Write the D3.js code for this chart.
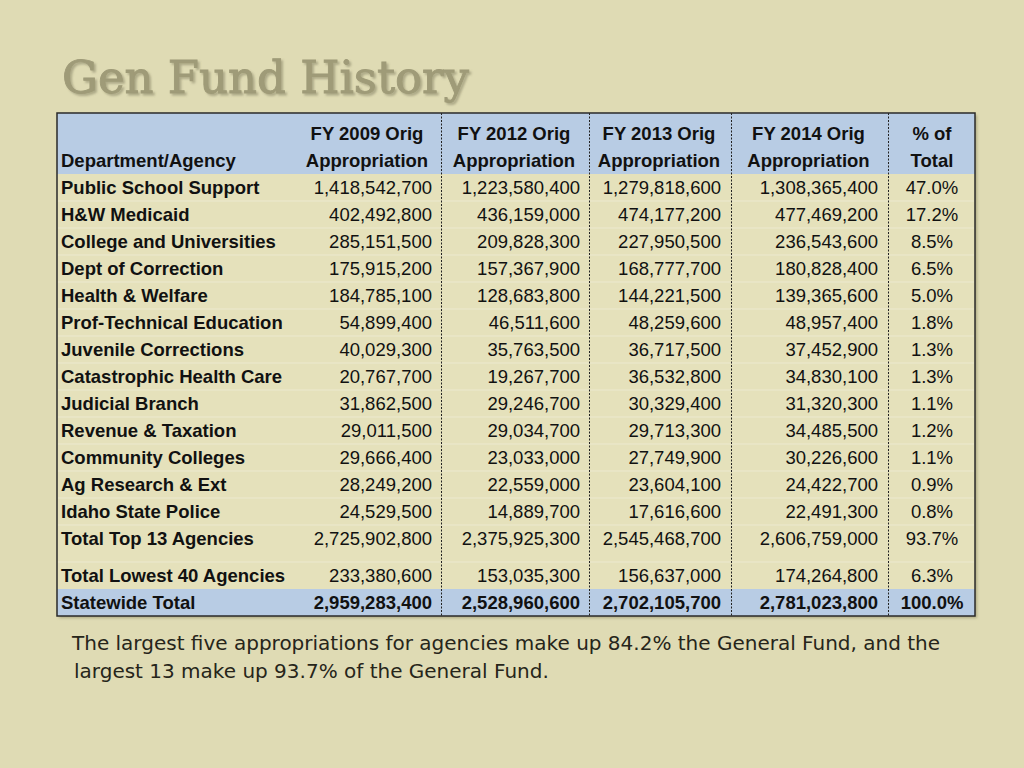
<!DOCTYPE html>
<html>
<head>
<meta charset="utf-8">
<script src="https://cdn.jsdelivr.net/npm/d3@7"></script>
<style>
html, body { margin: 0; padding: 0; background: #dfdbb4; }
svg { display: block; }
</style>
</head>
<body>
<script>
// ---------- DATA ----------
const titleText = "Gen Fund History";
const columnHeaders = [
  ["", "Department/Agency"],
  ["FY 2009 Orig", "Appropriation"],
  ["FY 2012 Orig", "Appropriation"],
  ["FY 2013 Orig", "Appropriation"],
  ["FY 2014 Orig", "Appropriation"],
  ["% of", "Total"]
];
const agencies = [
  "Public School Support", "H&W Medicaid", "College and Universities", "Dept of Correction",
  "Health & Welfare", "Prof-Technical Education", "Juvenile Corrections", "Catastrophic Health Care",
  "Judicial Branch", "Revenue & Taxation", "Community Colleges", "Ag Research & Ext",
  "Idaho State Police", "Total Top 13 Agencies", "Total Lowest 40 Agencies", "Statewide Total"
];
const fy2009 = [1418542700, 402492800, 285151500, 175915200, 184785100, 54899400, 40029300, 20767700,
  31862500, 29011500, 29666400, 28249200, 24529500, 2725902800, 233380600, 2959283400];
const fy2012 = [1223580400, 436159000, 209828300, 157367900, 128683800, 46511600, 35763500, 19267700,
  29246700, 29034700, 23033000, 22559000, 14889700, 2375925300, 153035300, 2528960600];
const fy2013 = [1279818600, 474177200, 227950500, 168777700, 144221500, 48259600, 36717500, 36532800,
  30329400, 29713300, 27749900, 23604100, 17616600, 2545468700, 156637000, 2702105700];
const fy2014 = [1308365400, 477469200, 236543600, 180828400, 139365600, 48957400, 37452900, 34830100,
  31320300, 34485500, 30226600, 24422700, 22491300, 2606759000, 174264800, 2781023800];
const pctTotal = [47.0, 17.2, 8.5, 6.5, 5.0, 1.8, 1.3, 1.3, 1.1, 1.2, 1.1, 0.9, 0.8, 93.7, 6.3, 100.0];
const footnoteLines = [
  "The largest five appropriations for agencies make up 84.2% the General Fund, and the",
  "largest 13 make up 93.7% of the General Fund."
];

// ---------- LAYOUT ----------
const W = 1024, H = 768;
const svg = d3.select("body").append("svg").attr("width", W).attr("height", H);
svg.append("rect").attr("width", W).attr("height", H).attr("fill", "#dfdbb4");

const defs = svg.append("defs");
const f = defs.append("filter").attr("id", "tshadow").attr("x", "-5%").attr("y", "-20%").attr("width", "110%").attr("height", "140%");
f.append("feDropShadow").attr("dx", 2).attr("dy", 2).attr("stdDeviation", 0.8).attr("flood-color", "#6e6a50").attr("flood-opacity", 0.45);
const f2 = defs.append("filter").attr("id", "bshadow").attr("x", "-5%").attr("y", "-5%").attr("width", "110%").attr("height", "110%");
f2.append("feDropShadow").attr("dx", 2).attr("dy", 2).attr("stdDeviation", 1.5).attr("flood-color", "#8a8660").attr("flood-opacity", 0.6);

// Title
svg.append("text")
  .attr("x", 62).attr("y", 93)
  .attr("font-family", "'DejaVu Serif', serif")
  .attr("font-size", 45)
  .attr("fill", "#9f9b78")
  .attr("stroke", "#9f9b78").attr("stroke-width", 0.9)
  .attr("filter", "url(#tshadow)")
  .text(titleText);

const tableLeft = 57, tableRight = 975, tableTop = 113, headerBottom = 174;
const colEdges = [57, 296, 441, 589, 731, 888, 975];
const fontFam = "'Liberation Sans', Arial, sans-serif";
const fs = 18.5;

// row scale: index -> top y
const rowH = 27;
const gapAfter = 13; // extra gap after "Total Top 13"
const rowY = d3.scaleLinear().domain([0, 1]).range([headerBottom, headerBottom + rowH]);
const rowTop = i => rowY(i) + (i > gapAfter ? 10 : 0);
const tableBottom = rowTop(agencies.length);

const xCol = d3.scaleOrdinal().domain(d3.range(colEdges.length)).range(colEdges);

const g = svg.append("g");
// table background & shadow
g.append("rect").attr("x", tableLeft).attr("y", tableTop)
  .attr("width", tableRight - tableLeft).attr("height", tableBottom - tableTop)
  .attr("fill", "#e5e1bb").attr("filter", "url(#bshadow)");
// header bg
g.append("rect").attr("x", tableLeft).attr("y", tableTop)
  .attr("width", tableRight - tableLeft).attr("height", headerBottom - tableTop)
  .attr("fill", "#b8cce4");
// statewide bg
const last = agencies.length - 1;
g.append("rect").attr("x", tableLeft).attr("y", rowTop(last))
  .attr("width", tableRight - tableLeft).attr("height", rowTop(last + 1) - rowTop(last))
  .attr("fill", "#b8cce4");

// faint row separators
g.selectAll("line.sep").data(d3.range(1, agencies.length - 1))
  .join("line").attr("class", "sep")
  .attr("x1", tableLeft + 1).attr("x2", tableRight - 1)
  .attr("y1", d => rowTop(d)).attr("y2", d => rowTop(d))
  .attr("stroke", "#ece9cf").attr("stroke-width", 1);

// dashed column dividers
g.selectAll("line.div").data([2, 3, 4, 5])
  .join("line").attr("class", "div")
  .attr("x1", d => xCol(d) + 0.5).attr("x2", d => xCol(d) + 0.5)
  .attr("y1", tableTop).attr("y2", tableBottom)
  .attr("stroke", "#222").attr("stroke-width", 1).attr("stroke-dasharray", "2,1.5");

// outer border
g.append("rect").attr("x", tableLeft).attr("y", tableTop)
  .attr("width", tableRight - tableLeft).attr("height", tableBottom - tableTop)
  .attr("fill", "none").attr("stroke", "#2a2a2a").attr("stroke-width", 1.5);

// headers
const hdr = g.selectAll("g.hdr").data(columnHeaders).join("g").attr("class", "hdr");
hdr.each(function(d, i) {
  const cx = i === 0 ? 61 : (i === 5 ? 932 : (i === 1 ? 367 : (xCol(i) + xCol(i + 1)) / 2 - 1));
  const anchor = i === 0 ? "start" : "middle";
  d3.select(this).selectAll("text").data(d).join("text")
    .attr("x", cx).attr("y", (t, j) => 140 + j * 27)
    .attr("text-anchor", anchor)
    .attr("font-family", fontFam).attr("font-size", fs).attr("font-weight", "bold")
    .attr("fill", "#111")
    .text(t => t);
});

// body rows
const fmt = d3.format(",");
const rows = g.selectAll("g.row").data(agencies.map((a, i) => ({ a, i }))).join("g").attr("class", "row")
  .attr("transform", d => `translate(0,${rowTop(d.i) + 20})`);
const isBoldRow = i => i === last;
rows.append("text").attr("x", 61)
  .attr("font-family", fontFam).attr("font-size", fs).attr("font-weight", "bold").attr("fill", "#111")
  .text(d => d.a);
const numCols = [fy2009, fy2012, fy2013, fy2014];
const rightEdges = [432, 580, 721, 878];
numCols.forEach((arr, k) => {
  rows.append("text").attr("x", rightEdges[k]).attr("text-anchor", "end")
    .attr("font-family", fontFam).attr("font-size", fs)
    .attr("font-weight", d => isBoldRow(d.i) ? "bold" : "normal").attr("fill", "#111")
    .text(d => fmt(arr[d.i]));
});
rows.append("text").attr("x", 932).attr("text-anchor", "middle")
  .attr("font-family", fontFam).attr("font-size", fs)
  .attr("font-weight", d => isBoldRow(d.i) ? "bold" : "normal").attr("fill", "#111")
  .text(d => d3.format(".1f")(pctTotal[d.i]) + "%");

// footnote
svg.selectAll("text.foot").data(footnoteLines).join("text").attr("class", "foot")
  .attr("x", (d, i) => i === 0 ? 72 : 74).attr("y", (d, i) => 650 + i * 28)
  .attr("font-family", "'DejaVu Sans', Verdana, sans-serif").attr("font-size", 20)
  .attr("fill", "#26251a")
  .text(d => d);
</script>
</body>
</html>
